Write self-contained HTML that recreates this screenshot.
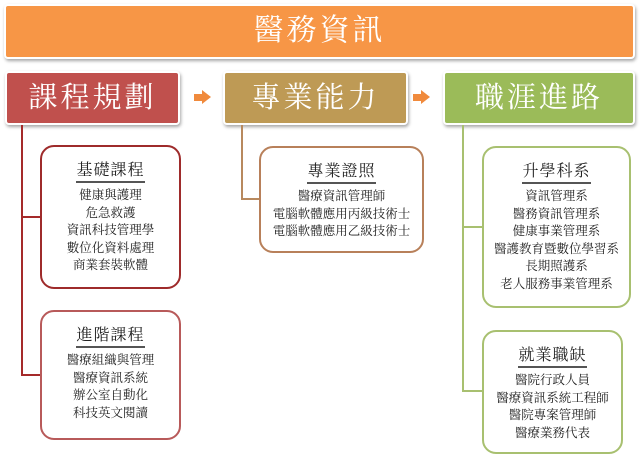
<!DOCTYPE html>
<html><head><meta charset="utf-8"><style>
body{margin:0;width:640px;height:473px;background:#fff;position:relative;overflow:hidden;font-family:"Liberation Serif","Noto Serif CJK SC","Noto Sans CJK TC",serif;}
.a{position:absolute;box-sizing:border-box}
.hd{color:#fff;text-align:center;border-radius:4px;box-shadow:1px 2px 3px rgba(0,0,0,.35);border:2px solid #fff}
.bx{background:#fff;border:2px solid;border-radius:14px;text-align:center;color:#222;font-size:12.5px;line-height:17.6px;padding-top:14px}
.bx b{display:inline-block;font-weight:normal;font-size:16px;line-height:20px;border-bottom:2px solid #555;margin-bottom:4px;letter-spacing:1px}
.ln{position:absolute}
.arr{position:absolute;width:0;height:0}
</style></head><body>
<div class="a hd" style="left:4px;top:4px;width:631px;height:55px;background:#F79646;font-size:30px;line-height:50px;letter-spacing:3px">醫務資訊</div>
<div class="a hd" style="left:5px;top:71px;width:175px;height:54px;background:#C0504D;font-size:29px;line-height:50px;letter-spacing:3px">課程規劃</div>
<div class="a hd" style="left:223px;top:71px;width:185px;height:54px;background:#BE9A55;font-size:29px;line-height:50px;letter-spacing:3px">專業能力</div>
<div class="a hd" style="left:443px;top:71px;width:192px;height:54px;background:#9BBB59;font-size:29px;line-height:50px;letter-spacing:3px">職涯進路</div>
<!-- arrows -->
<div class="a" style="left:194px;top:94px;width:8px;height:7px;background:#F08A3C"></div>
<div class="arr" style="left:202px;top:90px;border-left:9px solid #F08A3C;border-top:7.5px solid transparent;border-bottom:7.5px solid transparent"></div>
<div class="a" style="left:413px;top:94px;width:8px;height:7px;background:#F08A3C"></div>
<div class="arr" style="left:421px;top:90px;border-left:9px solid #F08A3C;border-top:7.5px solid transparent;border-bottom:7.5px solid transparent"></div>
<!-- connectors -->
<div class="ln" style="left:21px;top:125px;width:2px;height:251px;background:#A52A2A"></div>
<div class="ln" style="left:21px;top:216px;width:20px;height:2px;background:#A52A2A"></div>
<div class="ln" style="left:21px;top:374px;width:20px;height:2px;background:#A52A2A"></div>
<div class="ln" style="left:241px;top:125px;width:2px;height:75px;background:#B8895E"></div>
<div class="ln" style="left:241px;top:198px;width:19px;height:2px;background:#B8895E"></div>
<div class="ln" style="left:462px;top:125px;width:2px;height:267px;background:#A8C070"></div>
<div class="ln" style="left:462px;top:226px;width:20px;height:2px;background:#A8C070"></div>
<div class="ln" style="left:462px;top:390px;width:20px;height:2px;background:#A8C070"></div>
<!-- boxes -->
<div class="a bx" style="left:40px;top:145px;width:141px;height:144px;border-color:#9E2B2B"><b>基礎課程</b><br>健康與護理<br>危急救護<br>資訊科技管理學<br>數位化資料處理<br>商業套裝軟體</div>
<div class="a bx" style="left:40px;top:310px;width:141px;height:130px;border-color:#B85A5A"><b>進階課程</b><br>醫療組織與管理<br>醫療資訊系統<br>辦公室自動化<br>科技英文閱讀</div>
<div class="a bx" style="left:259px;top:146px;width:165px;height:107px;border-color:#B8805A"><b>專業證照</b><br>醫療資訊管理師<br>電腦軟體應用丙級技術士<br>電腦軟體應用乙級技術士</div>
<div class="a bx" style="left:482px;top:146px;width:149px;height:162px;border-color:#A8C070"><b>升學科系</b><br>資訊管理系<br>醫務資訊管理系<br>健康事業管理系<br>醫護教育暨數位學習系<br>長期照護系<br>老人服務事業管理系</div>
<div class="a bx" style="left:482px;top:330px;width:141px;height:124px;border-color:#A8C070"><b>就業職缺</b><br>醫院行政人員<br>醫療資訊系統工程師<br>醫院專案管理師<br>醫療業務代表</div>
</body></html>
